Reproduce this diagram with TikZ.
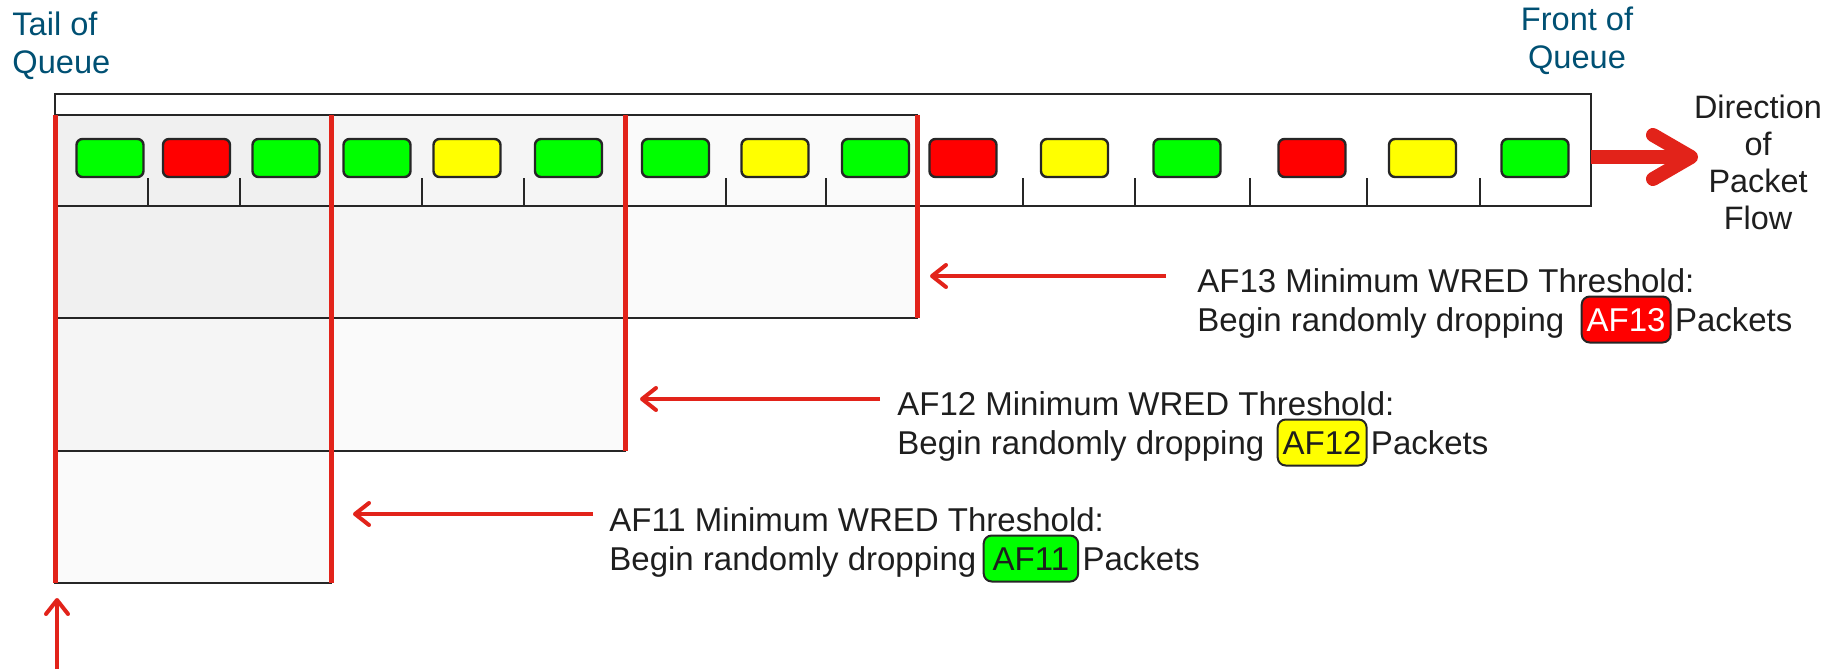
\documentclass[tikz,border=0pt]{standalone}
\usepackage{fontspec}
\setmainfont{Liberation Sans}
\usetikzlibrary{arrows.meta}
\definecolor{ciscoblue}{HTML}{005073}
\definecolor{cred}{HTML}{E2231A}
\definecolor{lgray}{HTML}{262626}
\definecolor{txtcol}{HTML}{1E1E1E}
\definecolor{pgreen}{HTML}{00FF00}
\definecolor{pred}{HTML}{FF0000}
\definecolor{pyellow}{HTML}{FFFF00}
\begin{document}
\begin{tikzpicture}[x=0.5pt,y=-0.5pt,
  qline/.style={draw=lgray, line width=1pt},
  zone/.style={draw=lgray, line width=1pt, fill=black, fill opacity=0.02},
  thr/.style={draw=cred, line width=2.5pt},
  tharrow/.style={draw=cred, line width=2pt, -{Straight Barb[length=7pt,width=11pt,round]}},
  flowarrow/.style={draw=cred, line width=7pt, -{Straight Barb[length=19pt,width=22pt,round]}},
  pkt/.style={draw=lgray, line width=1.2pt, rounded corners=3pt, minimum width=33.5pt, minimum height=19pt, inner sep=0pt},
  bluetxt/.style={text=ciscoblue, font=\fontsize{16.3}{19}\selectfont, inner sep=0pt},
  dirtxt/.style={text=txtcol, font=\fontsize{16.2}{18.5}\selectfont, inner sep=0pt, align=center},
  lbl/.style={text=txtcol, font=\fontsize{16.5}{19.5}\selectfont, inner sep=0pt},
  badge/.style={draw=lgray, line width=1pt, rounded corners=4pt, font=\fontsize{16.5}{19.5}\selectfont, inner xsep=2.5pt, inner ysep=0pt, text height=11.5pt, text depth=0pt, minimum height=23pt}
]
\useasboundingbox (0,0) rectangle (1829,669);

% queue outline
\draw[qline, fill=white] (55,94) rectangle (1591,206);
% threshold zones
\draw[zone] (55,115) rectangle (917,318);
\draw[zone] (55,115) rectangle (625,451);
\draw[zone] (55,115) rectangle (331,583);
\draw[qline] (55,206) -- (1591,206);

% ticks
\foreach \x in {148,240,331,422,524,625,726,826,917,1023,1135,1250,1367,1480}
  \draw[qline] (\x,178) -- (\x,206);

% packets
\foreach \i/\x/\c in {1/110/pgreen,2/196.5/pred,3/286/pgreen,4/377/pgreen,5/467/pyellow,
  6/568.5/pgreen,7/675.5/pgreen,8/775/pyellow,9/875.5/pgreen,10/963/pred,
  11/1074.5/pyellow,12/1187/pgreen,13/1312/pred,14/1422.5/pyellow,15/1535/pgreen}
  \node[pkt, fill=\c] (p\i) at (\x,158) {};

% red threshold lines
\draw[thr] (55,115) -- (55,583);
\draw[thr] (331,115) -- (331,583);
\draw[thr] (625,115) -- (625,451);
\draw[thr] (917,115) -- (917,318);

% flow arrow
\coordinate (fs) at (1591,157);
\coordinate (fe) at (1698,157);
\draw[flowarrow] (fs) -- (fe);

% tail arrow
\coordinate (us) at (57,669);
\coordinate (ue) at (57,598);
\draw[tharrow] (us) -- (ue);

% titles
\node[bluetxt, anchor=north west, align=left] (tail) at (12,11) {Tail of\\Queue};
\node[bluetxt, anchor=north, align=center] (front) at (1577,7) {Front of\\Queue};
\node[dirtxt, anchor=north] (dir) at (1758,95) {Direction\\of\\Packet\\Flow};

% AF13
\node[lbl, anchor=base west] (l13a) at (1197,292) {AF13 Minimum WRED Threshold:};
\node[lbl, anchor=base west] (l13b) at (1197,331) {Begin randomly dropping};
\node[badge, fill=pred, text=white, anchor=base west] (b13) at ([xshift=8pt]l13b.base east) {AF13};
\node[lbl, anchor=base west] (k13) at ([xshift=1.5pt]b13.base east) {Packets};
\coordinate (t13) at (1166,276);
\coordinate (h13) at (930,276);
\draw[tharrow] (t13) -- (h13);

% AF12
\node[lbl, anchor=base west] (l12a) at (897,415) {AF12 Minimum WRED Threshold:};
\node[lbl, anchor=base west] (l12b) at (897,454) {Begin randomly dropping};
\node[badge, fill=pyellow, text=txtcol, anchor=base west] (b12) at ([xshift=6pt]l12b.base east) {AF12};
\node[lbl, anchor=base west] (k12) at ([xshift=1.5pt]b12.base east) {Packets};
\coordinate (t12) at (880,399);
\coordinate (h12) at (640,399);
\draw[tharrow] (t12) -- (h12);

% AF11
\node[lbl, anchor=base west] (l11a) at (609,531) {AF11 Minimum WRED Threshold:};
\node[lbl, anchor=base west] (l11b) at (609,570) {Begin randomly dropping};
\node[badge, fill=pgreen, text=txtcol, anchor=base west, inner xsep=4.5pt] (b11) at ([xshift=3pt]l11b.base east) {AF11};
\node[lbl, anchor=base west] (k11) at ([xshift=1.5pt]b11.base east) {Packets};
\coordinate (t11) at (593,514);
\coordinate (h11) at (353,514);
\draw[tharrow] (t11) -- (h11);
\end{tikzpicture}
\end{document}
